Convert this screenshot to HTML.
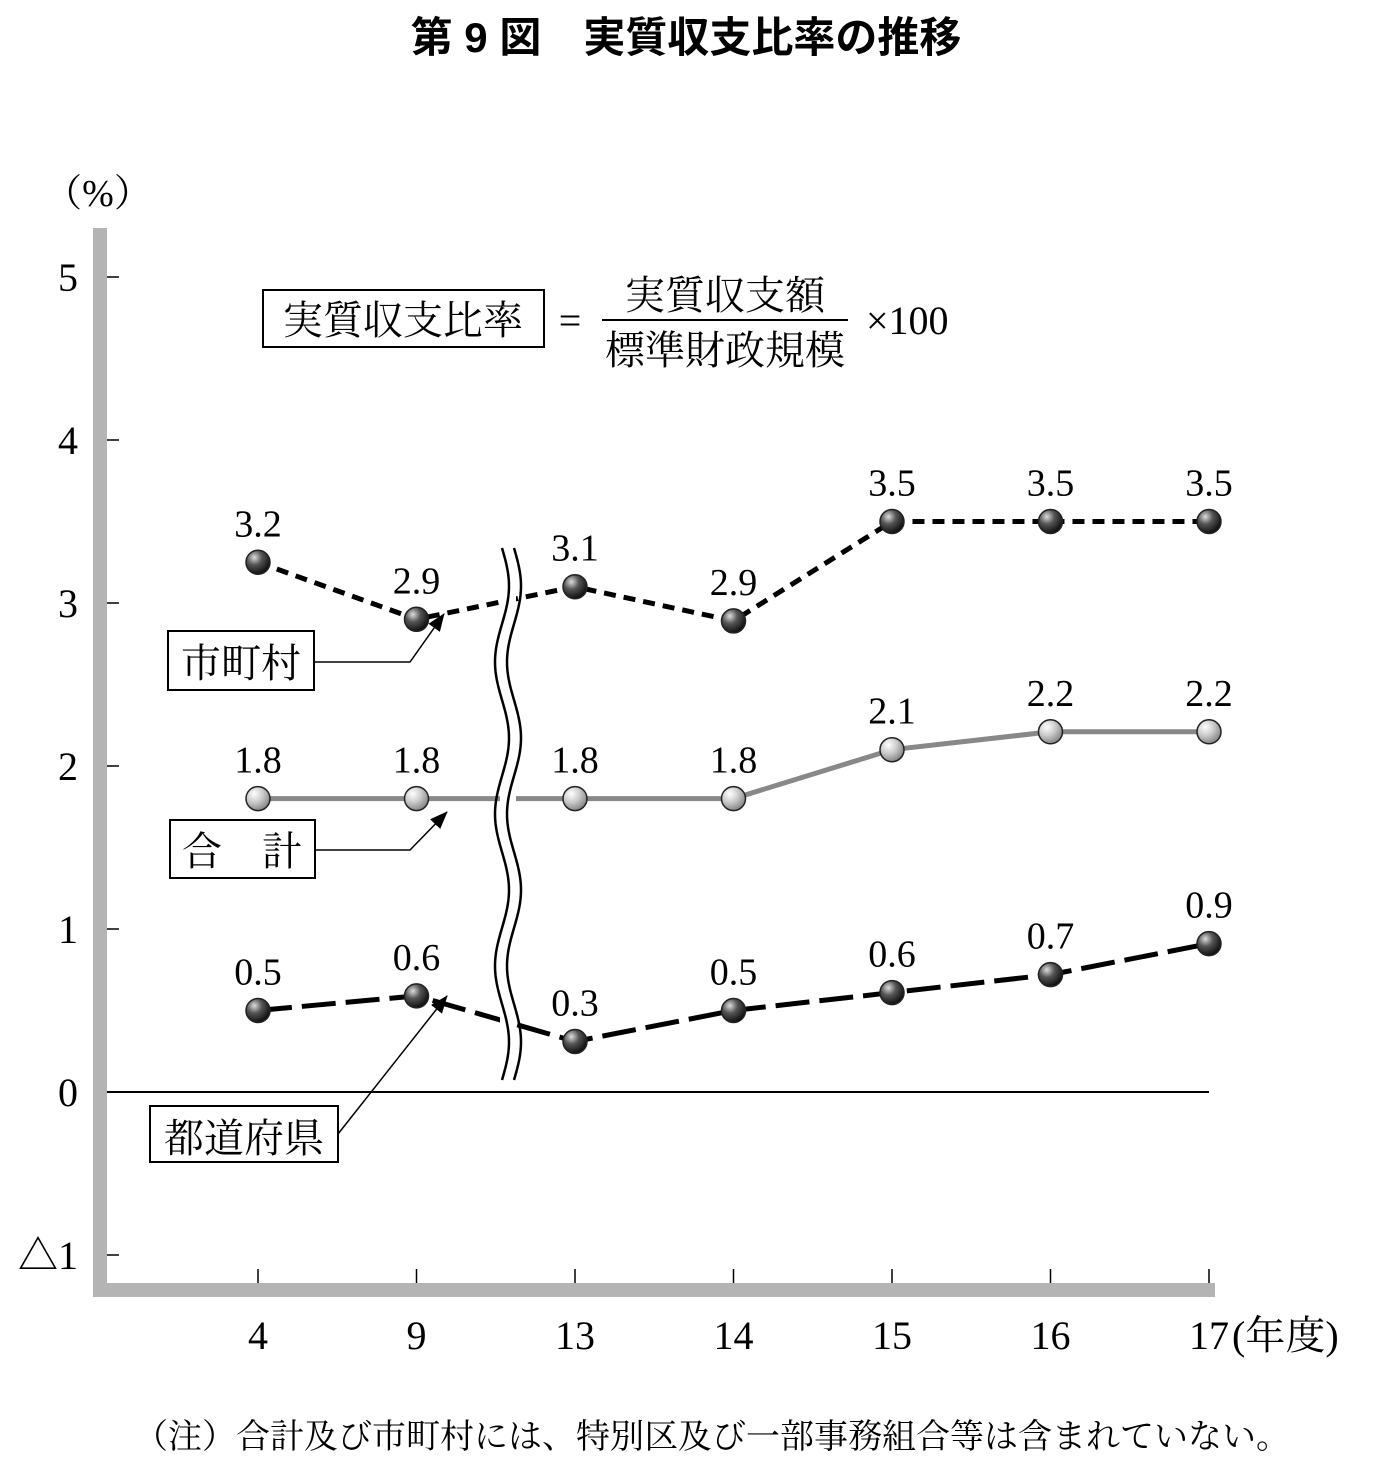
<!DOCTYPE html>
<html><head><meta charset="utf-8"><style>
body{margin:0;background:#fff}
svg{display:block}
.s{font-family:"Liberation Serif","Noto Serif CJK SC",serif}
.j{font-family:"Liberation Serif","Noto Serif CJK JP","Noto Sans CJK JP",serif}
</style></head><body>
<svg width="1400" height="1464" viewBox="0 0 1400 1464" xmlns="http://www.w3.org/2000/svg">
<defs>
<radialGradient id="dk" cx="35%" cy="30%" r="70%"><stop offset="0" stop-color="#ddd"/><stop offset="0.45" stop-color="#555"/><stop offset="1" stop-color="#111"/></radialGradient>
<radialGradient id="lt" cx="35%" cy="30%" r="70%"><stop offset="0" stop-color="#fff"/><stop offset="0.5" stop-color="#ccc"/><stop offset="1" stop-color="#888"/></radialGradient>
<marker id="ar" markerWidth="18" markerHeight="14" refX="17" refY="7" orient="auto" markerUnits="userSpaceOnUse" viewBox="0 0 18 14"><path d="M0,0L18,7L0,14z" fill="#000"/></marker>
</defs>
<text x="686" y="52" text-anchor="middle" font-family="'Liberation Sans','Noto Sans CJK JP',sans-serif" font-weight="bold" font-size="42">第 9 図　実質収支比率の推移</text>
<text x="98" y="206" text-anchor="middle" class="j" font-size="38">（%）</text>
<g id="axes"></g>
<g id="plot"></g>
<g>
<rect x="263" y="290" width="281" height="57" fill="#fff" stroke="#000" stroke-width="2"/>
<text x="403" y="334" text-anchor="middle" class="j" font-size="40">実質収支比率</text>
<text x="570" y="334" text-anchor="middle" class="s" font-size="40">=</text>
<text x="725" y="309" text-anchor="middle" class="j" font-size="40">実質収支額</text>
<line x1="602" y1="320" x2="848" y2="320" stroke="#000" stroke-width="2"/>
<text x="725" y="364" text-anchor="middle" class="j" font-size="40">標準財政規模</text>
<text x="866" y="334" class="s" font-size="40">×100</text>
</g>
<g>
<rect x="168" y="631" width="146" height="59" fill="#fff" stroke="#000" stroke-width="2"/>
<text x="241" y="677" text-anchor="middle" class="j" font-size="40">市町村</text>
<polyline points="314,662 410,662 444,614" fill="none" stroke="#000" stroke-width="1.5" marker-end="url(#ar)"/>
<rect x="170" y="820" width="145" height="58" fill="#fff" stroke="#000" stroke-width="2"/>
<text x="242" y="865" text-anchor="middle" class="j" font-size="40">合　計</text>
<polyline points="315,850 410,850 447,812" fill="none" stroke="#000" stroke-width="1.5" marker-end="url(#ar)"/>
<rect x="150" y="1106" width="188" height="56" fill="#fff" stroke="#000" stroke-width="2"/>
<text x="244" y="1152" text-anchor="middle" class="j" font-size="40">都道府県</text>
<line x1="338" y1="1134" x2="447" y2="996" stroke="#000" stroke-width="1.5" marker-end="url(#ar)"/>
</g>
<text x="712" y="1448" text-anchor="middle" class="j" font-size="34">（注）合計及び市町村には、特別区及び一部事務組合等は含まれていない。</text>
</svg>
<script>
const years=["4","9","13","14","15","16","17"];
const yTicks=[5,4,3,2,1,0,-1];
const yTickLabels=["5","4","3","2","1","0","△1"];
const muni=[3.25,2.9,3.1,2.89,3.5,3.5,3.5];
const muniLabels=["3.2","2.9","3.1","2.9","3.5","3.5","3.5"];
const total=[1.8,1.8,1.8,1.8,2.1,2.21,2.21];
const totalLabels=["1.8","1.8","1.8","1.8","2.1","2.2","2.2"];
const pref=[0.5,0.59,0.31,0.5,0.61,0.72,0.91];
const prefLabels=["0.5","0.6","0.3","0.5","0.6","0.7","0.9"];
const NS="http://www.w3.org/2000/svg";
const y=v=>1092-163*v;
const x=i=>258+i*158.5;
function mk(t,a,p){const e=document.createElementNS(NS,t);for(const k in a)e.setAttribute(k,a[k]);(p||document.getElementById('plot')).appendChild(e);return e;}
const ax=document.getElementById('axes');
let e=mk('rect',{x:93,y:228,width:14,height:1069,fill:'#b4b4b4'},ax);


e=mk('rect',{x:93,y:1283,width:1122,height:14,fill:'#b4b4b4'},ax);


yTicks.forEach((v,i)=>{
 e=mk('line',{x1:107,x2:119,y1:y(v),y2:y(v),stroke:'#000','stroke-width':1.5},ax);
 
 
 e=mk('text',{x:78,y:y(v)+14,'text-anchor':'end','font-size':40,class:'s'},ax);
 e.textContent=yTickLabels[i];
 
 
});
years.forEach((t,i)=>{
 e=mk('line',{x1:x(i),x2:x(i),y1:1269,y2:1283,stroke:'#000','stroke-width':1.5},ax);
 
 
 e=mk('text',{x:x(i),y:1349,'text-anchor':'middle','font-size':40,class:'s'},ax);
 e.textContent=t;
 
 
});
e=mk('text',{x:1232,y:1349,'font-size':40,class:'j'},ax);
e.textContent="(年度)";


e=mk('line',{x1:107,x2:x(6),y1:y(0),y2:y(0),stroke:'#000','stroke-width':2},ax);


function series(vals,labs,name,stroke,dash,grad){
 const pts=vals.map((v,i)=>x(i)+','+y(v)).join(' ');
 let l=mk('polyline',{points:pts,fill:'none',stroke:stroke,'stroke-width':5,'stroke-dasharray':dash});
 
 
 return ()=>{vals.forEach((v,i)=>{
  let c=mk('circle',{cx:x(i),cy:y(v),r:12,fill:grad,stroke:'#222','stroke-width':1.5});
  
  
  let t=mk('text',{x:x(i),y:y(v)-26,'text-anchor':'middle','font-size':38,class:'s'});
  t.textContent=labs[i];
  
  
 });};
}
const d1=series(muni,muniLabels,'municipal','#000','12 8','url(#dk)');
const d2=series(total,totalLabels,'total','#888','none','url(#lt)');
const d3=series(pref,prefLabels,'prefectural','#000','34 10','url(#dk)');
let w='';for(let yy=548;yy<=1080;yy+=4){const dx=7*Math.sin((yy-548)/532*Math.PI*7);w+=(yy==548?'M':'L')+(502+dx)+','+yy;}
let w2='';for(let yy=548;yy<=1080;yy+=4){const dx=7*Math.sin((yy-548)/532*Math.PI*7);w2+=(yy==548?'M':'L')+(514+dx)+','+yy;}
e=mk('rect',{x:500,y:548,width:16,height:532,fill:'#fff'});


e=mk('path',{d:w+' '+w2,fill:'none',stroke:'#000','stroke-width':2.5});


d1();d2();d3();
</script>
</body></html>
